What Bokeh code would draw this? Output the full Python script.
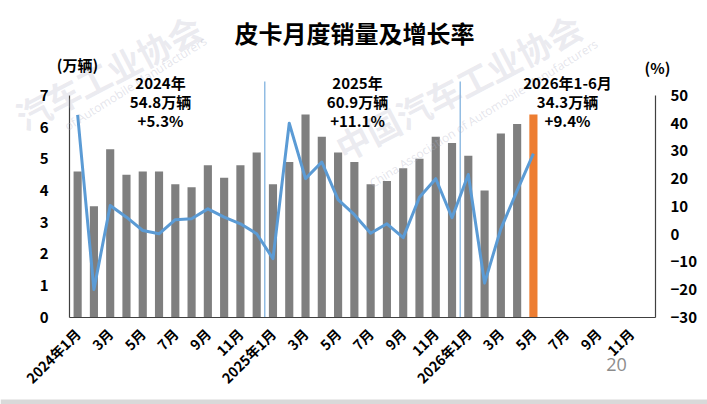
from math import pi

from bokeh.embed import file_html
from bokeh.models import BoxAnnotation, ColumnDataSource, FixedTicker, Label, LinearAxis, Range1d
from bokeh.plotting import figure
from bokeh.resources import INLINE

# ---- data -------------------------------------------------------------
# monthly pickup sales (10k units)
sales_2024 = [4.6, 3.5, 5.3, 4.5, 4.6, 4.6, 4.2, 4.1, 4.8, 4.4, 4.8, 5.2]
sales_2025 = [4.2, 4.9, 6.4, 5.7, 5.2, 4.9, 4.2, 4.3, 4.7, 5.0, 5.7, 5.5]
sales_2026 = [5.1, 4.0, 5.8, 6.1, 6.4]

# year-on-year growth (%)
growth_2024 = [43.0, -20.0, 10.3, 6.1, 1.3, 0.1, 5.2, 5.5, 9.1, 6.1, 3.7, 0.1]
growth_2025 = [-8.9, 40.0, 20.0, 26.0, 12.4, 7.0, 0.3, 3.7, -1.3, 13.3, 20.0, 5.9]
growth_2026 = [21.5, -17.7, 1.9, 15.7, 29.0]

years = [2024, 2025, 2026]
month_labels = ["1月", "3月", "5月", "7月", "9月", "11月"]

year_notes = [
    ("2024年", "54.8万辆", "+5.3%"),
    ("2025年", "60.9万辆", "+11.1%"),
    ("2026年1-6月", "34.3万辆", "+9.4%"),
]

# ---- derived series -----------------------------------------------------
sales = sales_2024 + sales_2025 + sales_2026
growth = growth_2024 + growth_2025 + growth_2026
n_slots = 12 * len(years)
idx = list(range(len(sales)))
colors = ["#7F7F7F"] * (len(sales) - 1) + ["#ED7D31"]

tick_pos = list(range(0, n_slots, 2))
tick_text = {}
for t in tick_pos:
    y, m = divmod(t, 12)
    lab = month_labels[m // 2]
    tick_text[t] = f"{years[y]}年{lab}" if m == 0 else lab

# ---- geometry -----------------------------------------------------------
# The frame covers the whole canvas; the three axes are pinned with
# fixed_location so heading, notes and unit labels all live in the frame.
W, H = 707, 404
LEFT, RIGHT, BOTTOM = 69, 655, 316.7     # axis positions in pixels
PX_PER_UNIT = 31.67                      # pixels per 10k units on the left axis
PX_PER_SLOT = (RIGHT - LEFT) / n_slots

x_first, x_last = -0.5, n_slots - 0.5
pct_lo, pct_hi = -30.0, 50.0
PCT_PER_UNIT = (pct_hi - pct_lo) / 7.0


def dx(px):
    return x_first + (px - LEFT) / PX_PER_SLOT


def dy(py):
    return (BOTTOM - py) / PX_PER_UNIT


def dpct(py):
    return pct_lo + dy(py) * PCT_PER_UNIT


FONT = "Noto Sans CJK SC"

p = figure(
    width=W, height=H,
    x_range=Range1d(dx(0), dx(W)), y_range=Range1d(dy(H), dy(0)),
    output_backend="svg", toolbar_location=None, min_border=0,
    background_fill_color="white", border_fill_color="white",
)
p.outline_line_color = None
p.xgrid.visible = False
p.ygrid.visible = False
p.extra_y_ranges = {"pct": Range1d(dpct(H), dpct(0))}


def style_axis(ax, standoff, size="15px"):
    ax.major_tick_line_color = None
    ax.minor_tick_line_color = None
    ax.major_tick_out = 0
    ax.major_tick_in = 0
    ax.axis_line_color = "#404040"
    ax.axis_line_width = 1.2
    ax.major_label_standoff = standoff
    ax.major_label_text_font = FONT
    ax.major_label_text_font_style = "bold"
    ax.major_label_text_font_size = size
    ax.major_label_text_color = "black"


# left axis (10k units)
ya = p.yaxis[0]
ya.ticker = FixedTicker(ticks=list(range(0, 8)))
ya.bounds = (0, 7)
ya.fixed_location = x_first
style_axis(ya, 21)

# right axis (%)
ra = LinearAxis(y_range_name="pct", ticker=FixedTicker(ticks=list(range(-30, 51, 10))))
ra.bounds = (pct_lo, pct_hi)
ra.fixed_location = x_last
style_axis(ra, 15)
p.add_layout(ra, "right")

# bottom axis (months)
xa = p.xaxis[0]
xa.ticker = FixedTicker(ticks=tick_pos)
xa.major_label_overrides = tick_text
xa.major_label_orientation = pi / 4
xa.bounds = (x_first, x_last)
xa.fixed_location = 0
style_axis(xa, 14, "14px")

# watermark, faint, over the whole slide
wm_font = dict(text_align="center", text_baseline="middle", text_color="#B0B0C4")
watermark = [
    # (text, centre x, centre y, angle, font, size, alpha)
    ("汽车工业协会", 108, 71, 0.48, FONT, "34px", 0.26),
    ("of Automobile Manufacturers", 135, 83, 0.56, "Open Sans", "12px", 0.35),
    ("中国汽车工业协会", 458, 86, 0.48, FONT, "34px", 0.26),
    ("China Association of Automobile Manufacturers", 483, 113, 0.56, "Open Sans", "12px", 0.35),
]
for txt, cx, cy, ang, fnt, size, alpha in watermark:
    p.add_layout(Label(x=dx(cx), y=dy(cy), text=txt, angle=ang, text_font=fnt,
                       text_font_style="bold" if fnt == FONT else "normal",
                       text_font_size=size, text_alpha=alpha, **wm_font))

# bars and growth line
src = ColumnDataSource(dict(x=idx, sales=sales, growth=growth, color=colors))
p.vbar(x="x", top="sales", width=0.5, fill_color="color", line_color=None, source=src)
p.line(x="x", y="growth", y_range_name="pct", line_color="#5B9BD5", line_width=3,
       line_join="round", source=src)

# year separators
sep_x = [12 * k - 0.5 for k in range(1, len(years))]
p.segment(x0=sep_x, x1=sep_x, y0=[0] * len(sep_x), y1=[dy(81)] * len(sep_x),
          line_color="#5B9BD5", line_width=1)


def text_label(px, py, txt, size="15px", bold=True, color="black", font=FONT):
    p.add_layout(Label(x=dx(px), y=dy(py), text=txt, text_align="center",
                       text_baseline="middle", text_font=font,
                       text_font_style="bold" if bold else "normal",
                       text_font_size=size, text_color=color))


# year summary notes
note_x = [160, 357, 567]
for cx, lines in zip(note_x, year_notes):
    for j, txt in enumerate(lines):
        text_label(cx, 82 + 19 * j, txt)

# unit labels and heading
text_label(77, 64, "(万辆)")
text_label(657, 67, "(%)")
text_label(354, 32, "皮卡月度销量及增长率", size="24px")

# page number and footer strip
text_label(616, 364, "20", size="18px", bold=False, color="#8C8C8C", font="Open Sans")
p.add_layout(BoxAnnotation(bottom=dy(H), top=dy(399), fill_color="#D9D9D9",
                           fill_alpha=1.0, line_color=None))

with open("out.html", "w") as f:
    f.write(file_html(p, INLINE))
